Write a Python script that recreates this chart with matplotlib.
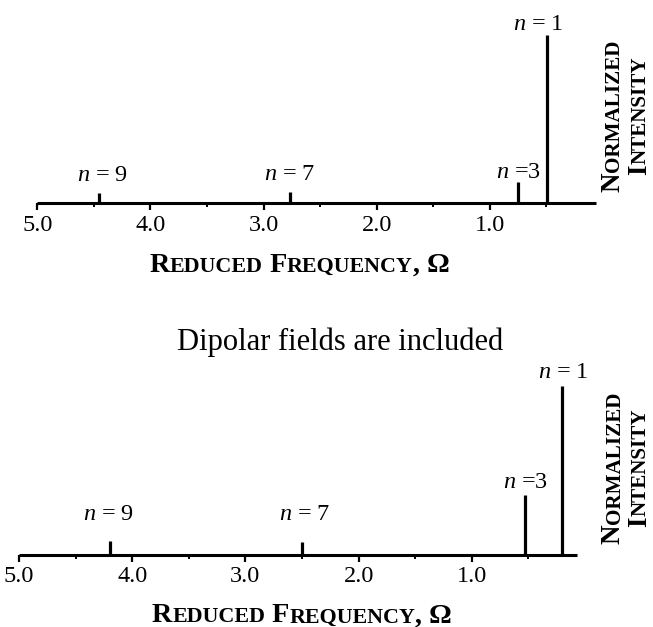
import matplotlib
matplotlib.use("Agg")
import matplotlib.pyplot as plt
from matplotlib.ticker import FixedLocator

plt.rcParams['font.family'] = ['Liberation Serif', 'DejaVu Serif']
plt.rcParams['mathtext.fontset'] = 'custom'
plt.rcParams['mathtext.it'] = 'Liberation Serif:italic'
plt.rcParams['mathtext.rm'] = 'Liberation Serif'

# ---------------- data ----------------
mode_labels = ['$n$ = 1', '$n$ =3', '$n$ = 7', '$n$ = 9']
top_freq = [0.493, 0.747, 2.766, 4.455]
top_int = [1.0, 0.121, 0.066, 0.056]
bot_freq = [0.200, 0.527, 2.503, 4.197]
bot_int = [1.0, 0.355, 0.073, 0.079]
major_ticks = [5.0, 4.0, 3.0, 2.0, 1.0]
major_labels = ['5.0', '4.0', '3.0', '2.0', '1.0']
minor_ticks = [4.5, 3.5, 2.5, 1.5, 0.5]
title_text = 'Dipolar fields are included'

# label offsets (pixels) relative to top of each line
top_offsets = [(-9, 11), (0, 10), (0, 17), (4, 18)]
bot_offsets = [(1, 13), (0, 12), (3, 28), (-1, 27)]

W, H = 653, 627
fig = plt.figure(figsize=(W / 100, H / 100), dpi=100)
renderer = fig.canvas.get_renderer()

def px_ax(x0, x1, ybase, h):
    return [x0 / W, (H - ybase) / H, (x1 - x0) / W, h / H]

ax1 = fig.add_axes(px_ax(37.3, 595.7, 202.7, 167.7))
ax2 = fig.add_axes(px_ax(19.0, 577.3, 554.5, 168.5))

def style(ax, xr):
    ax.set_xlim(5.0, xr)
    ax.set_ylim(0, 1.0)
    for s in ['top', 'left', 'right']:
        ax.spines[s].set_visible(False)
    ax.spines['bottom'].set_linewidth(2.2)
    ax.spines['bottom'].set_capstyle('butt')
    ax.xaxis.set_major_locator(FixedLocator(major_ticks))
    ax.set_xticklabels(major_labels)
    ax.xaxis.set_minor_locator(FixedLocator(minor_ticks))
    ax.tick_params(axis='x', which='major', direction='out', length=5, width=1.6,
                   labelsize=17.5, pad=3.5)
    ax.tick_params(axis='x', which='minor', direction='out', length=3, width=1.4)
    ax.set_yticks([])
    ax.patch.set_visible(False)

style(ax1, 0.063)
style(ax2, 0.068)

def draw(ax, freq, inten, offs):
    ax.vlines(freq, 0, inten, colors='black', linewidth=2.3, clip_on=False)
    for f, i, lab, (dx, dy) in zip(freq, inten, mode_labels, offs):
        ax.annotate(lab, xy=(f, i), xytext=(dx, dy), textcoords='offset pixels',
                    ha='center', va='center', fontsize=17.5)

draw(ax1, top_freq, top_int, top_offsets)
draw(ax2, bot_freq, bot_int, bot_offsets)

# ---------- small caps helper ----------
def smallcaps(parts, cx, cy, size, ratio=0.78, rotation=0, weight='bold'):
    """parts: list of (string, is_big)."""
    widths = []
    for s, big in parts:
        fs = size if big else size * ratio
        t = fig.text(0, 0, s, fontsize=fs, fontweight=weight)
        w, h, d = renderer.get_text_width_height_descent(s, t.get_fontproperties(), ismath=False)
        widths.append(w)
        t.remove()
    total = sum(widths)
    pos = -total / 2
    for (s, big), w in zip(parts, widths):
        fs = size if big else size * ratio
        if rotation == 0:
            x, y = cx + pos, cy
            fig.text(x / W, (H - y) / H, s, fontsize=fs, fontweight=weight,
                     ha='left', va='baseline')
        else:
            x, y = cx, cy - pos
            fig.text(x / W, (H - y) / H, s, fontsize=fs, fontweight=weight,
                     ha='left', va='baseline', rotation=90, rotation_mode='anchor')
        pos += w

xlab = [('R', True), ('EDUCED', False), (' F', True), ('REQUENCY', False), (', Ω', True)]
ylab1 = [('N', True), ('ORMALIZED', False)]
ylab2 = [('I', True), ('NTENSITY', False)]

# x labels (center x, baseline y)
smallcaps(xlab, 299.5, 271.5, 20.3)
smallcaps(xlab, 302, 622.5, 20.3)
# y labels: baseline x for rotated text (text extends left of baseline)
for cy, xa, xb in [(115.5, 619, 646), (467.5, 620, 646)]:
    smallcaps(ylab1, xa, cy, 19.5, rotation=90)
    smallcaps(ylab2, xb, cy, 19.5, rotation=90)

fig.text(340.5 / W, (H - 342) / H, title_text, fontsize=22, ha='center', va='center')

fig.savefig('out.png', dpi=100)
